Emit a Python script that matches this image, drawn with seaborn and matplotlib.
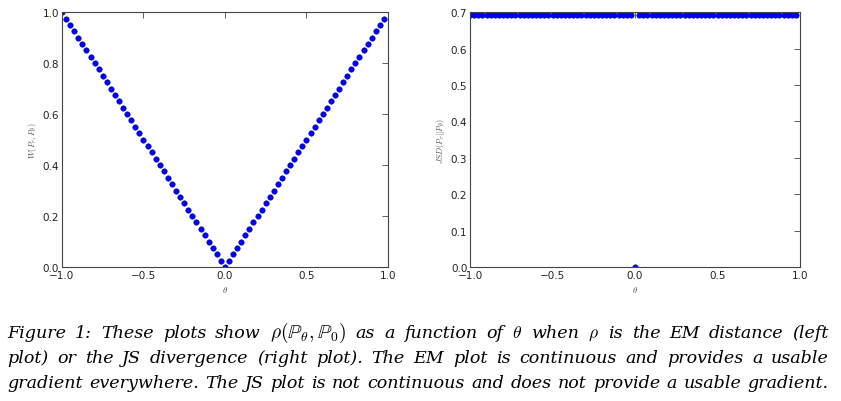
import matplotlib
matplotlib.use("Agg")
import matplotlib.pyplot as plt
import seaborn as sns
import pandas as pd

# theta grid (step 0.025, -1.0 .. 0.975)
theta = [-1.0, -0.975, -0.95, -0.925, -0.9, -0.875, -0.85, -0.825, -0.8, -0.775,
         -0.75, -0.725, -0.7, -0.675, -0.65, -0.625, -0.6, -0.575, -0.55, -0.525,
         -0.5, -0.475, -0.45, -0.425, -0.4, -0.375, -0.35, -0.325, -0.3, -0.275,
         -0.25, -0.225, -0.2, -0.175, -0.15, -0.125, -0.1, -0.075, -0.05, -0.025,
         0.0, 0.025, 0.05, 0.075, 0.1, 0.125, 0.15, 0.175, 0.2, 0.225,
         0.25, 0.275, 0.3, 0.325, 0.35, 0.375, 0.4, 0.425, 0.45, 0.475,
         0.5, 0.525, 0.55, 0.575, 0.6, 0.625, 0.65, 0.675, 0.7, 0.725,
         0.75, 0.775, 0.8, 0.825, 0.85, 0.875, 0.9, 0.925, 0.95, 0.975]

# EM distance
w_dist = [1.0, 0.975, 0.95, 0.925, 0.9, 0.875, 0.85, 0.825, 0.8, 0.775,
          0.75, 0.725, 0.7, 0.675, 0.65, 0.625, 0.6, 0.575, 0.55, 0.525,
          0.5, 0.475, 0.45, 0.425, 0.4, 0.375, 0.35, 0.325, 0.3, 0.275,
          0.25, 0.225, 0.2, 0.175, 0.15, 0.125, 0.1, 0.075, 0.05, 0.025,
          0.0, 0.025, 0.05, 0.075, 0.1, 0.125, 0.15, 0.175, 0.2, 0.225,
          0.25, 0.275, 0.3, 0.325, 0.35, 0.375, 0.4, 0.425, 0.45, 0.475,
          0.5, 0.525, 0.55, 0.575, 0.6, 0.625, 0.65, 0.675, 0.7, 0.725,
          0.75, 0.775, 0.8, 0.825, 0.85, 0.875, 0.9, 0.925, 0.95, 0.975]

# JS divergence: log 2 everywhere except theta = 0
jsd = [0.693] * 40 + [0.0] + [0.693] * 39

left_ticks = [0.0, 0.2, 0.4, 0.6, 0.8, 1.0]
right_ticks = [0.0, 0.1, 0.2, 0.3, 0.4, 0.5, 0.6, 0.7]
x_ticks = [-1.0, -0.5, 0.0, 0.5, 1.0]

caption = [
    r"Figure 1: These plots show $\rho(\mathbb{P}_\theta,\mathbb{P}_0)$ as a function of $\theta$ when $\rho$ is the EM distance (left",
    "plot) or the JS divergence (right plot). The EM plot is continuous and provides a usable",
    "gradient everywhere. The JS plot is not continuous and does not provide a usable gradient.",
]

df = pd.DataFrame({"theta": theta, "w": w_dist, "jsd": jsd})

sns.set_style("white")
plt.rcParams["mathtext.fontset"] = "cm"
plt.rcParams["font.family"] = ["DejaVu Sans"]

W, H = 841, 402
fig = plt.figure(figsize=(W / 100, H / 100), dpi=100)
ax1 = fig.add_axes([0.0737, 0.3333, 0.3876, 0.634])
ax2 = fig.add_axes([0.5589, 0.3333, 0.3924, 0.634])


def style_axis(ax, yticks, ylim, ylabel):
    ax.set_xlim(-1.0, 1.0)
    ax.set_ylim(*ylim)
    ax.set_xticks(x_ticks)
    ax.set_yticks(yticks)
    ax.set_xticklabels([f"{t:.1f}".replace("-", "\u2212") for t in x_ticks])
    ax.set_yticklabels([f"{t:.1f}" for t in yticks])
    ax.tick_params(direction="in", length=4, width=0.6, top=True, right=True,
                   labelsize=7.5, colors="#444444", labelcolor="#222222", pad=2)
    for s in ax.spines.values():
        s.set_color("#444444")
        s.set_linewidth(0.8)
    ax.set_xlabel(r"$\theta$", fontsize=6.5, color="#555555", labelpad=3)
    ax.set_ylabel(ylabel, fontsize=6, color="#555555", labelpad=3)


sns.scatterplot(data=df, x="theta", y="w", ax=ax1, color="#0000ff",
                s=16, edgecolor="#000080", linewidth=0.3)
style_axis(ax1, left_ticks, (0.0, 1.0), r"$W(P_r,P_\theta)$")

sns.scatterplot(data=df, x="theta", y="jsd", ax=ax2, color="#0000ff",
                s=16, edgecolor="#000080", linewidth=0.3)
style_axis(ax2, right_ticks, (0.0, 0.7), r"$JSD(P_r||P_\theta)$")

# caption, justified word by word like the LaTeX paragraph
renderer = fig.canvas.get_renderer()
x_left, x_right = 7, 829
baselines = [338, 363, 388]
for line, base in zip(caption, baselines):
    words = line.split(" ")
    texts = [fig.text(0, 1 - base / H, wd, fontsize=14 if "mathbb" in wd else 12.6,
                      family=["DejaVu Serif"], style="italic", color="black",
                      ha="left", va="baseline")
             for wd in words]
    widths = [t.get_window_extent(renderer).width for t in texts]
    gap = (x_right - x_left - sum(widths)) / (len(words) - 1)
    x = x_left
    for t, wdt in zip(texts, widths):
        t.set_x(x / W)
        x += wdt + gap

fig.savefig("out.png", dpi=100)
